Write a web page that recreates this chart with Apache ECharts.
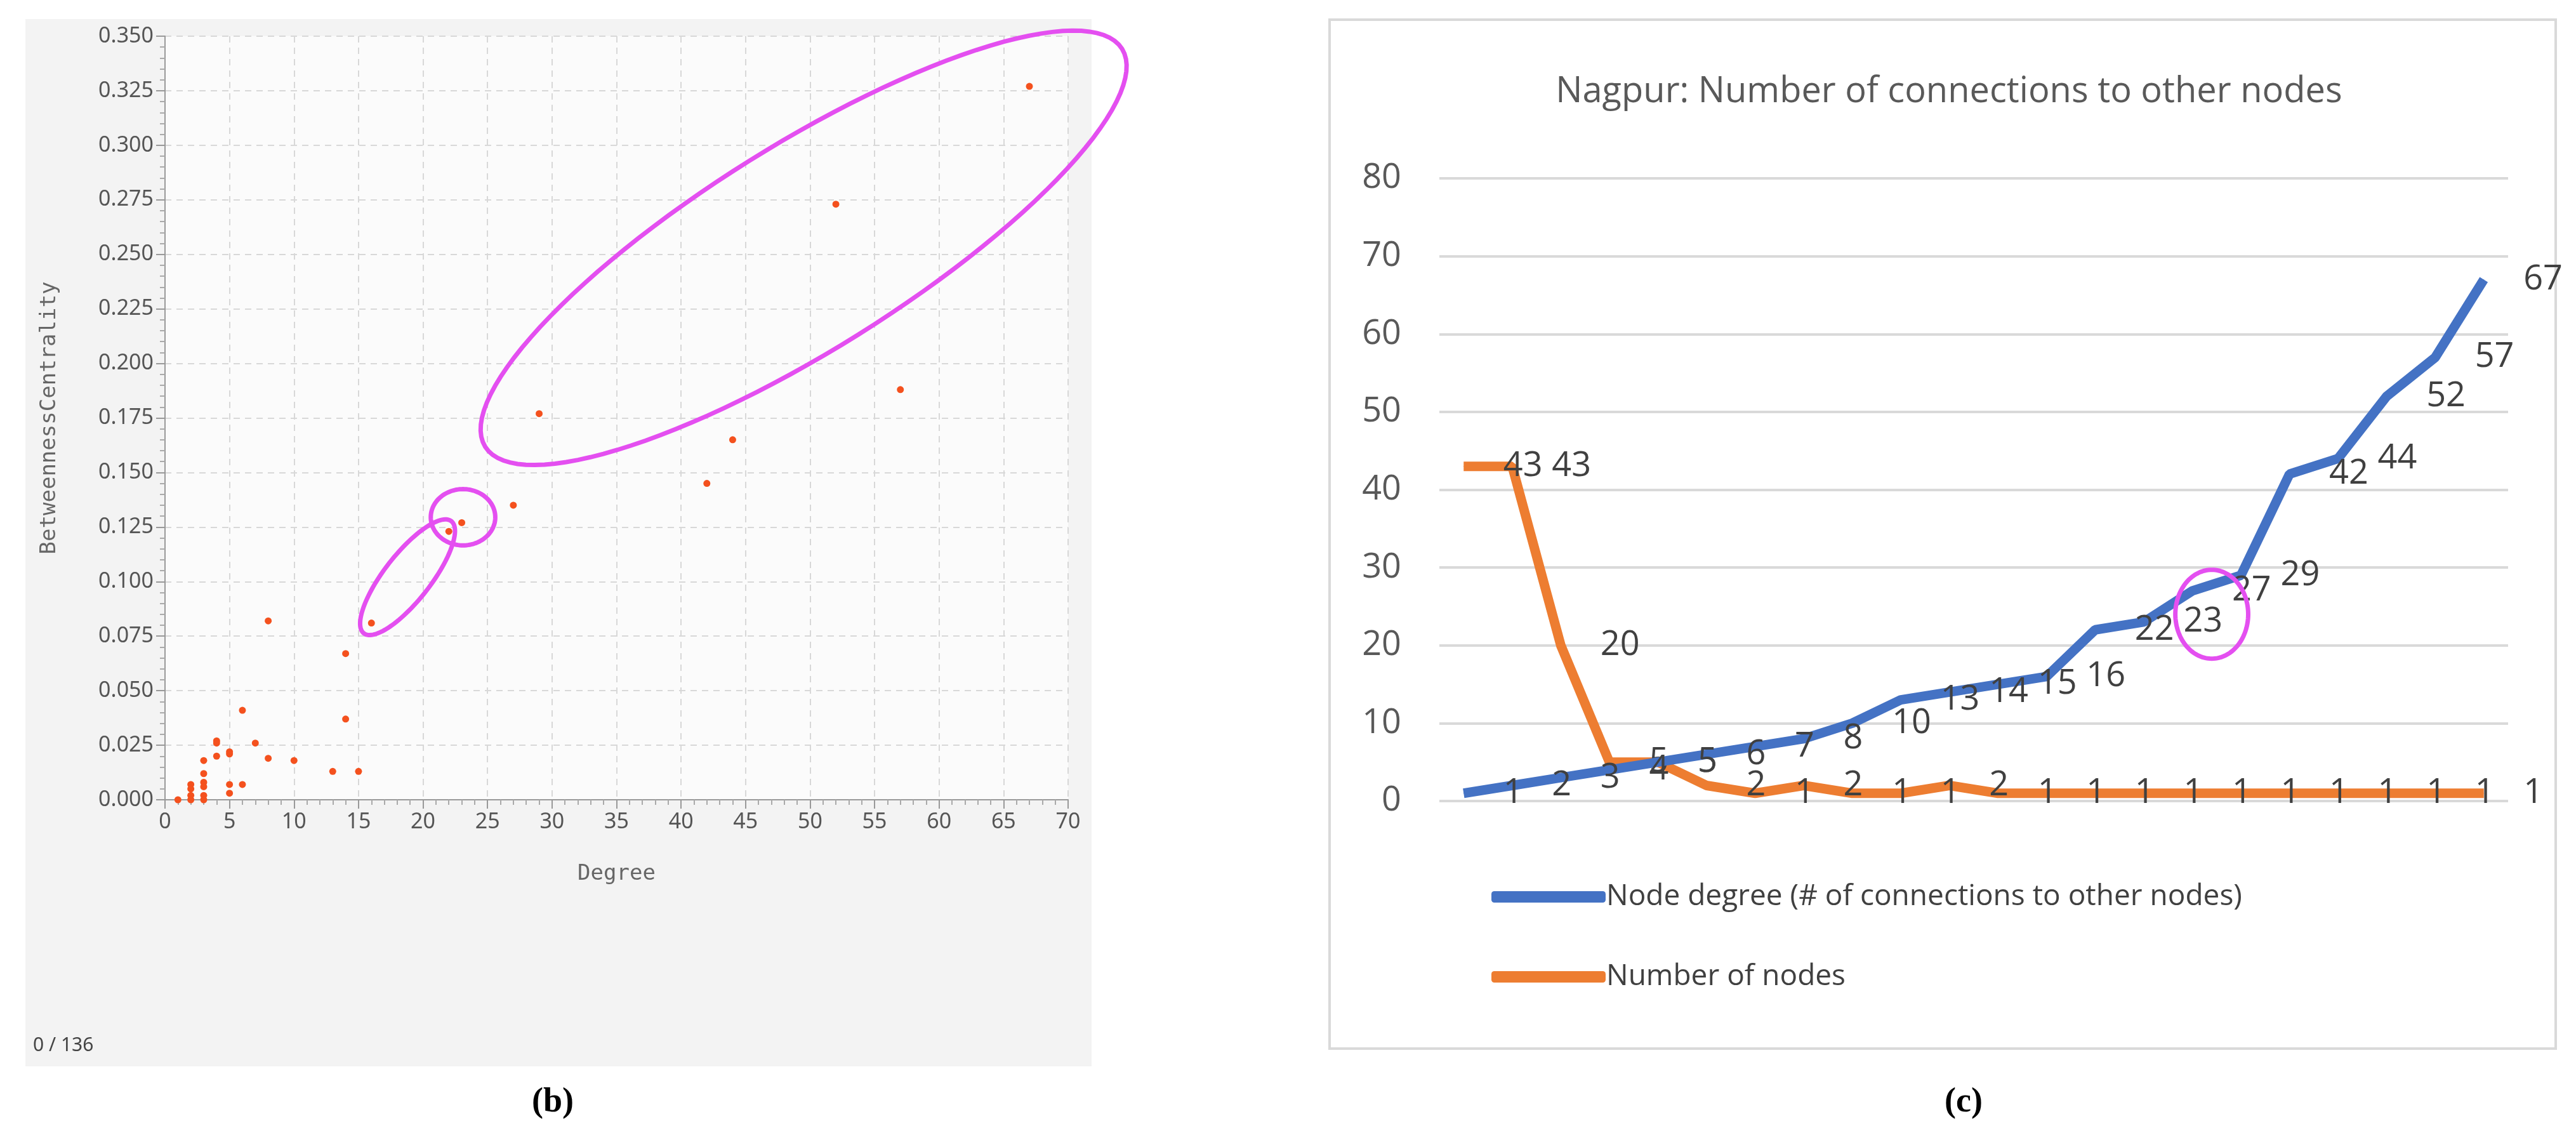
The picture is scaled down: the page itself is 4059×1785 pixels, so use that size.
<!DOCTYPE html>
<html>
<head>
<meta charset="utf-8">
<title>Nagpur network</title>
<script src="https://cdn.jsdelivr.net/npm/echarts@6/dist/echarts.min.js"></script>
<style>html,body{margin:0;background:#fff}</style>
</head>
<body>
<div id="main" style="width:4059px;height:1785px;"></div>
<script type="text/javascript">
    // (b) degree vs betweenness centrality
    var scatterPoints = [
        [1, 0.000], [2, 0.007], [2, 0.005], [2, 0.002], [2, 0.000],
        [3, 0.018], [3, 0.012], [3, 0.008], [3, 0.006], [3, 0.002], [3, 0.000],
        [4, 0.027], [4, 0.026], [4, 0.020],
        [5, 0.022], [5, 0.021], [5, 0.007], [5, 0.003],
        [6, 0.041], [6, 0.007], [7, 0.026], [8, 0.082], [8, 0.019],
        [10, 0.018], [13, 0.013], [14, 0.067], [14, 0.037], [15, 0.013],
        [16, 0.081], [22, 0.123], [23, 0.127], [27, 0.135], [29, 0.177],
        [42, 0.145], [44, 0.165], [52, 0.273], [57, 0.188], [67, 0.327]
    ];
    // (c) Nagpur connections
    var categories = ['1','2','3','4','5','6','7','8','9','10','11','12','13','14','15','16','17','18','19','20','21','22'];
    var nodeDegree = [1, 2, 3, 4, 5, 6, 7, 8, 10, 13, 14, 15, 16, 22, 23, 27, 29, 42, 44, 52, 57, 67];
    var nodeCount = [43, 43, 20, 5, 5, 2, 1, 2, 1, 1, 2, 1, 1, 1, 1, 1, 1, 1, 1, 1, 1, 1];

    var magenta = '#e44ff0';
    var myChart = echarts.init(document.getElementById('main'));

    var option = {
        animation: false,
        textStyle: {fontFamily: 'Noto Sans'},
        title: {
            text: 'Nagpur: Number of connections to other nodes',
            left: 3066, top: 112, textAlign: 'center',
            textStyle: {fontSize: 56, fontWeight: 'normal', color: '#595959', fontFamily: 'Open Sans'}
        },
        legend: {
            data: ['Node degree (# of connections to other nodes)', 'Number of nodes'],
            orient: 'vertical', left: 2345, top: 1385, itemGap: 80,
            itemWidth: 180, itemHeight: 18, icon: 'roundRect',
            textStyle: {fontSize: 46, color: '#404040', fontFamily: 'Open Sans', padding: [0, 0, 0, -4]}
        },
        grid: [
            {left: 260, right: 4059 - 1683, top: 57, bottom: 1785 - 1260, show: true,
             backgroundColor: '#fbfbfb', borderWidth: 0},
            {left: 2268, right: 107, top: 281, bottom: 1785 - 1262}
        ],
        xAxis: [
            {gridIndex: 0, type: 'value', min: 0, max: 70, interval: 5,
             name: 'Degree', nameLocation: 'middle', nameGap: 100,
             nameTextStyle: {fontFamily: 'DejaVu Sans Mono', fontSize: 34, color: '#666'},
             axisLine: {lineStyle: {color: '#999', width: 2}},
             axisTick: {length: 14, lineStyle: {color: '#999', width: 2}},
             minorTick: {show: true, splitNumber: 5, length: 8, lineStyle: {color: '#aaa', width: 2}},
             axisLabel: {fontSize: 34, color: '#555', margin: 18},
             splitLine: {lineStyle: {type: [10, 8], color: '#d8d8d8', width: 2}}},
            {gridIndex: 1, type: 'category', data: categories, boundaryGap: true,
             axisLine: {show: false}, axisTick: {show: false}, axisLabel: {show: false}}
        ],
        yAxis: [
            {gridIndex: 0, type: 'value', min: 0, max: 0.35, interval: 0.025,
             name: 'BetweennessCentrality', nameLocation: 'middle', nameGap: 165,
             nameTextStyle: {fontFamily: 'DejaVu Sans Mono', fontSize: 34, color: '#666'},
             axisLine: {show: true, lineStyle: {color: '#999', width: 2}},
             axisTick: {show: true, length: 14, lineStyle: {color: '#999', width: 2}},
             minorTick: {show: true, splitNumber: 5, length: 8, lineStyle: {color: '#aaa', width: 2}},
             axisLabel: {fontSize: 34, color: '#555', margin: 18, formatter: function (v) { return v.toFixed(3); }},
             splitLine: {lineStyle: {type: [10, 8], color: '#d8d8d8', width: 2}}},
            {gridIndex: 1, type: 'value', min: 0, max: 80, interval: 10,
             axisLine: {show: false}, axisTick: {show: false},
             axisLabel: {fontSize: 54, color: '#595959', margin: 60, fontFamily: 'Open Sans'},
             splitLine: {lineStyle: {color: '#d9d9d9', width: 4}}}
        ],
        series: [
            {type: 'scatter', xAxisIndex: 0, yAxisIndex: 0, data: scatterPoints,
             symbolSize: 11, itemStyle: {color: '#f4511e', opacity: 1}},
            {name: 'Node degree (# of connections to other nodes)', type: 'line',
             xAxisIndex: 1, yAxisIndex: 1, data: nodeDegree,
             symbol: 'circle', symbolSize: 1, color: '#4472c4',
             lineStyle: {width: 15, color: '#4472c4'}, z: 3,
             label: {show: true, position: 'right', distance: 62, fontSize: 54,
                     color: '#404040', fontFamily: 'Open Sans'}},
            {name: 'Number of nodes', type: 'line',
             xAxisIndex: 1, yAxisIndex: 1, data: nodeCount,
             symbol: 'circle', symbolSize: 1, color: '#ed7d31',
             lineStyle: {width: 15, color: '#ed7d31'}, z: 2,
             label: {show: true, position: 'right', distance: 62, fontSize: 54,
                     color: '#404040', fontFamily: 'Open Sans'}}
        ]
    };
    myChart.setOption(option);

    // annotation ellipses: centres in data units, radii in reference-preview px
    function ellipsePoints(cx, cy, a, b, deg) {
        var t = deg * Math.PI / 180, pts = [];
        for (var i = 0; i < 120; i++) {
            var u = i / 120 * Math.PI * 2;
            var x = a * Math.cos(u), y = b * Math.sin(u);
            pts.push([cx + x * Math.cos(t) + y * Math.sin(t), cy - x * Math.sin(t) + y * Math.cos(t)]);
        }
        return pts;
    }
    var p0 = myChart.convertToPixel({gridIndex: 0}, [0, 0]);
    var p70 = myChart.convertToPixel({gridIndex: 0}, [70, 0]);
    var k = (p70[0] - p0[0]) / 546;
    function scatterEllipse(dx, dy, a, b, deg) {
        var c = myChart.convertToPixel({gridIndex: 0}, [dx, dy]);
        return {type: 'polygon', shape: {points: ellipsePoints(c[0], c[1], a * k, b * k, deg)},
                style: {fill: 'none', stroke: magenta, lineWidth: 7}, z: 100};
    }
    var c1a = myChart.convertToPixel({gridIndex: 1}, [0, 0]);
    var c1b = myChart.convertToPixel({gridIndex: 1}, [1, 0]);
    var band = c1b[0] - c1a[0];
    var cc = [c1a[0] + band * 15.4, myChart.convertToPixel({gridIndex: 1}, [0, 24])[1]];

    myChart.setOption({
        graphic: [
            {type: 'rect', shape: {x: 40, y: 30, width: 1680, height: 1650},
             style: {fill: '#f3f3f3'}, z: -10},
            {type: 'rect', shape: {x: 2095, y: 31, width: 1932, height: 1621},
             style: {fill: 'none', stroke: '#d9d9d9', lineWidth: 4}, z: -10},
            {type: 'text', x: 52, y: 1632, style: {text: '0 / 136', fill: '#444', font: '30px Noto Sans'}},
            {type: 'text', x: 871, y: 1737, style: {text: '(b)', fill: '#000', font: 'bold 54px Liberation Serif', textAlign: 'center', textVerticalAlign: 'middle'}},
            {type: 'text', x: 3094, y: 1737, style: {text: '(c)', fill: '#000', font: 'bold 54px Liberation Serif', textAlign: 'center', textVerticalAlign: 'middle'}},
            scatterEllipse(49.5, 0.253, 227, 62, 32),
            scatterEllipse(18.8, 0.102, 43, 14, 52),
            scatterEllipse(23.1, 0.1295, 19.5, 17, 0),
            {type: 'polygon', shape: {points: ellipsePoints(cc[0], cc[1], band * 0.75, 70, 0)},
             style: {fill: 'none', stroke: magenta, lineWidth: 7}, z: 100}
        ]
    });
</script>
</body>
</html>
